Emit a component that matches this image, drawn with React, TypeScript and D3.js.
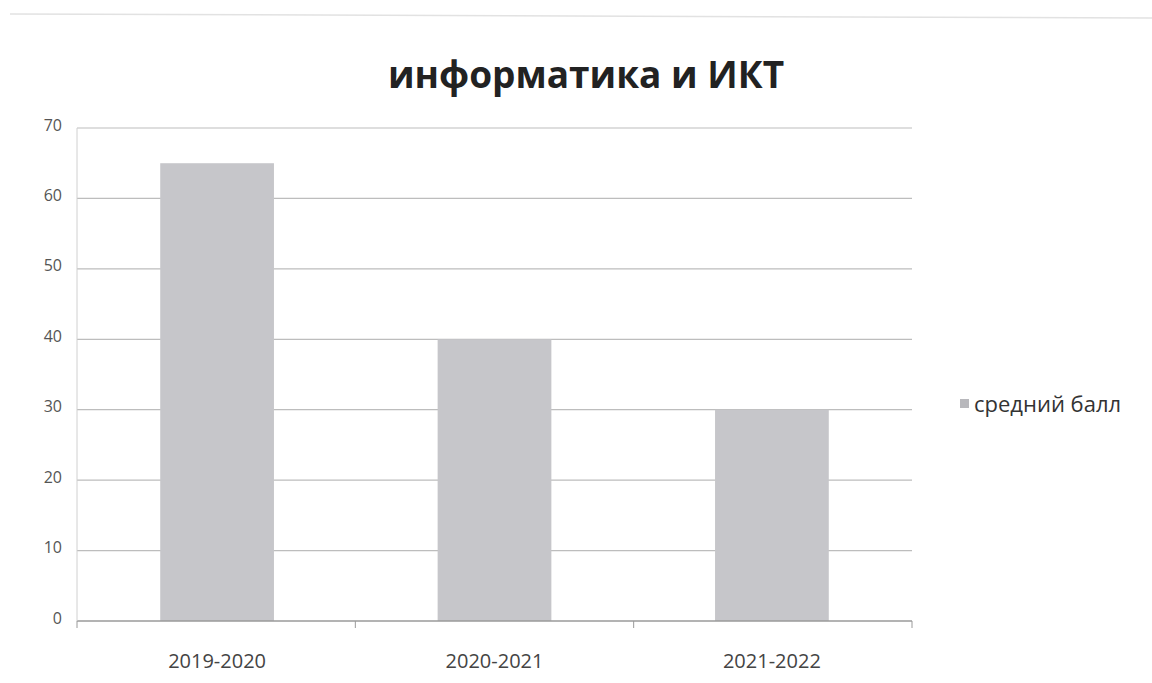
import React, { useEffect, useRef } from 'react';
import * as d3 from 'd3';

const TITLE = 'информатика и ИКТ';
const SERIES_NAME = 'средний балл';
const years = ['2019-2020', '2020-2021', '2021-2022'];
const scores = [65, 40, 30];
const yTicks = [0, 10, 20, 30, 40, 50, 60, 70];

const W = 1152;
const H = 683;
const FONT = '"Open Sans", "Noto Sans", sans-serif';

export default function App() {
  const svgRef = useRef<SVGSVGElement>(null);

  useEffect(() => {
    document.body.style.margin = '0';
    if (!svgRef.current) return;
    const svg = d3.select(svgRef.current);
    svg.selectAll('*').remove();

    const margin = { top: 128, right: 240, bottom: 62, left: 77 };
    const innerW = W - margin.left - margin.right;
    const innerH = H - margin.top - margin.bottom;

    svg.append('rect').attr('width', W).attr('height', H).attr('fill', '#fff');
    // faint frame of the scanned chart area
    svg.append('line')
      .attr('x1', 10).attr('x2', W).attr('y1', 14).attr('y2', 18)
      .attr('stroke', '#e2e2e2').attr('stroke-width', 1.5);

    // title
    svg.append('text')
      .attr('x', 586).attr('y', 88)
      .attr('text-anchor', 'middle')
      .attr('font-family', FONT)
      .attr('font-weight', 700)
      .attr('font-size', 37)
      .attr('fill', '#222')
      .text(TITLE);

    const g = svg.append('g').attr('transform', `translate(${margin.left},${margin.top})`);

    const x = d3.scaleBand().domain(years).range([0, innerW]).paddingInner(0.59).paddingOuter(0.3);
    const y = d3.scaleLinear().domain([0, 70]).range([innerH, 0]);

    // gridlines
    g.selectAll('line.grid')
      .data(yTicks.filter(t => t > 0))
      .join('line')
      .attr('class', 'grid')
      .attr('x1', 0).attr('x2', innerW)
      .attr('y1', d => y(d)).attr('y2', d => y(d))
      .attr('stroke', '#bdbdbd').attr('stroke-width', 1.2);

    // y labels
    g.selectAll('text.ytick')
      .data(yTicks)
      .join('text')
      .attr('class', 'ytick')
      .attr('x', -15).attr('y', d => y(d) - 3)
      .attr('dy', '0.35em')
      .attr('text-anchor', 'end')
      .attr('font-family', FONT)
      .attr('font-size', 16)
      .attr('fill', '#555')
      .text(d => String(d));

    // bars
    g.selectAll('rect.bar')
      .data(scores)
      .join('rect')
      .attr('class', 'bar')
      .attr('x', (_, i) => x(years[i]) as number)
      .attr('width', x.bandwidth())
      .attr('y', d => y(d))
      .attr('height', d => innerH - y(d))
      .attr('fill', '#c6c6ca');

    // x axis
    const axis = g.append('g').attr('transform', `translate(0,${innerH})`);
    axis.append('line')
      .attr('x1', 0).attr('x2', innerW)
      .attr('stroke', '#9a9a9a').attr('stroke-width', 1.3);
    const edges = d3.range(years.length + 1).map(i => i * (innerW / years.length));
    axis.selectAll('line.tick')
      .data(edges)
      .join('line')
      .attr('class', 'tick')
      .attr('x1', d => d).attr('x2', d => d)
      .attr('y1', 0).attr('y2', 7)
      .attr('stroke', '#9a9a9a');
    axis.selectAll('text.xlab')
      .data(years)
      .join('text')
      .attr('class', 'xlab')
      .attr('x', d => (x(d) as number) + x.bandwidth() / 2)
      .attr('y', 47)
      .attr('text-anchor', 'middle')
      .attr('font-family', FONT)
      .attr('font-size', 20)
      .attr('fill', '#444')
      .text(d => d);

    // y axis line
    g.append('line')
      .attr('x1', 0).attr('x2', 0).attr('y1', 0).attr('y2', innerH)
      .attr('stroke', '#d0d0d0');

    // legend
    const lg = svg.append('g').attr('transform', 'translate(960,404)');
    lg.append('rect').attr('x', 0).attr('y', -5).attr('width', 9).attr('height', 9).attr('fill', '#b8b8bc');
    lg.append('text')
      .attr('x', 14).attr('y', 0).attr('dy', '0.35em')
      .attr('font-family', FONT)
      .attr('font-size', 22)
      .attr('fill', '#333')
      .text(SERIES_NAME);
  }, []);

  return <svg ref={svgRef} width={W} height={H} style={{ display: 'block' }} />;
}
